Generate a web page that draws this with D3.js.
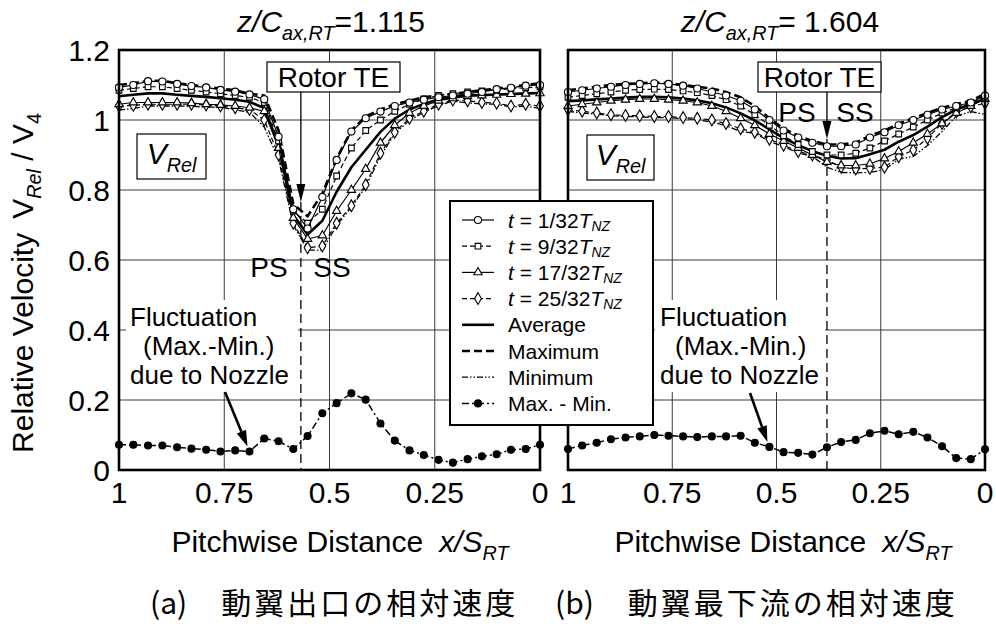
<!DOCTYPE html>
<html>
<head>
<meta charset="utf-8">
<script src="https://cdn.jsdelivr.net/npm/d3@7"></script>
<style>
  body { margin: 0; background: #fff; }
  svg { display: block; }
  text { font-family: "Liberation Sans", Arial, Helvetica, sans-serif; fill: #000; }
  .jp { font-family: "Noto Sans CJK JP", "Noto Sans CJK SC", sans-serif; }
</style>
</head>
<body>
<svg id="chart" width="996" height="628"></svg>
<script>
// Pitchwise positions x/S_RT of the measurement traverse
const pitch = [1.000,0.966,0.931,0.897,0.862,0.828,0.793,0.759,0.724,0.690,0.655,0.621,0.586,0.552,0.517,0.483,0.448,0.414,0.379,0.345,0.310,0.276,0.241,0.207,0.172,0.138,0.103,0.069,0.034,0.000];

// (a) rotor exit, z/Cax,RT = 1.115
const aT1  = [1.093,1.100,1.111,1.110,1.103,1.097,1.093,1.086,1.081,1.073,1.059,0.952,0.745,0.690,0.780,0.886,0.967,1.005,1.024,1.040,1.050,1.058,1.065,1.070,1.075,1.080,1.088,1.092,1.098,1.100];
const aT9  = [1.085,1.090,1.095,1.095,1.090,1.085,1.080,1.075,1.070,1.065,1.050,0.940,0.740,0.705,0.745,0.840,0.920,0.970,1.000,1.025,1.045,1.060,1.070,1.075,1.080,1.083,1.085,1.090,1.092,1.095];
const aT17 = [1.045,1.050,1.050,1.050,1.050,1.048,1.045,1.043,1.040,1.035,1.025,0.920,0.720,0.660,0.670,0.740,0.800,0.860,0.935,0.985,1.020,1.040,1.055,1.062,1.068,1.070,1.072,1.074,1.075,1.076];
const aT25 = [1.040,1.042,1.045,1.045,1.045,1.045,1.043,1.040,1.035,1.030,1.000,0.900,0.705,0.635,0.640,0.705,0.755,0.815,0.905,0.965,1.005,1.025,1.045,1.057,1.055,1.050,1.048,1.040,1.045,1.040];
const aAvg = [1.068,1.072,1.076,1.076,1.072,1.069,1.066,1.062,1.058,1.052,1.034,0.928,0.728,0.673,0.712,0.795,0.865,0.915,0.966,1.004,1.030,1.046,1.059,1.066,1.070,1.071,1.073,1.074,1.076,1.077];
const aMax = [1.100,1.105,1.112,1.112,1.105,1.100,1.095,1.090,1.085,1.075,1.070,0.970,0.760,0.725,0.790,0.890,0.970,1.010,1.030,1.045,1.055,1.065,1.070,1.075,1.080,1.085,1.090,1.095,1.100,1.105];
const aMin = [1.028,1.033,1.040,1.040,1.040,1.039,1.037,1.037,1.029,1.022,0.980,0.888,0.700,0.628,0.628,0.699,0.751,0.809,0.897,0.961,0.999,1.022,1.041,1.054,1.049,1.046,1.045,1.037,1.040,1.033];
const aFluct = [0.072,0.072,0.070,0.070,0.065,0.061,0.058,0.053,0.056,0.053,0.090,0.082,0.060,0.097,0.162,0.191,0.219,0.201,0.133,0.084,0.056,0.043,0.029,0.021,0.031,0.039,0.045,0.058,0.060,0.072];

// (b) far downstream, z/Cax,RT = 1.604
const bT1  = [1.080,1.085,1.090,1.095,1.100,1.103,1.105,1.103,1.098,1.090,1.080,1.070,1.055,1.030,1.000,0.970,0.950,0.935,0.925,0.925,0.930,0.950,0.965,0.985,1.000,1.015,1.030,1.040,1.050,1.070];
const bT9  = [1.065,1.070,1.075,1.080,1.085,1.087,1.088,1.087,1.083,1.078,1.070,1.058,1.040,1.015,0.985,0.955,0.930,0.910,0.900,0.900,0.905,0.920,0.940,0.960,0.980,1.000,1.020,1.035,1.050,1.065];
const bT17 = [1.040,1.045,1.050,1.055,1.058,1.060,1.060,1.058,1.055,1.050,1.040,1.025,1.005,0.985,0.960,0.940,0.920,0.900,0.880,0.870,0.870,0.875,0.890,0.910,0.935,0.960,0.990,1.020,1.040,1.060];
const bT25 = [1.030,1.025,1.020,1.015,1.013,1.012,1.010,1.010,1.007,1.005,1.000,0.990,0.975,0.965,0.945,0.928,0.910,0.900,0.886,0.865,0.860,0.862,0.865,0.895,0.914,0.948,0.990,1.023,1.038,1.048];
const bAvg = [1.054,1.056,1.059,1.061,1.064,1.066,1.066,1.065,1.061,1.056,1.048,1.036,1.019,0.999,0.973,0.948,0.928,0.911,0.898,0.890,0.891,0.902,0.915,0.938,0.957,0.981,1.008,1.030,1.045,1.061];
const bMax = [1.085,1.090,1.095,1.100,1.103,1.105,1.107,1.105,1.100,1.095,1.090,1.080,1.065,1.040,1.005,0.975,0.955,0.940,0.930,0.930,0.935,0.955,0.970,0.990,1.005,1.020,1.035,1.045,1.055,1.075];
const bMin = [1.025,1.020,1.017,1.012,1.010,1.009,1.007,1.007,1.004,1.001,0.994,0.984,0.967,0.962,0.939,0.924,0.906,0.896,0.865,0.850,0.849,0.850,0.858,0.888,0.896,0.927,0.967,1.011,1.024,1.016];
const bFluct = [0.060,0.070,0.078,0.088,0.093,0.096,0.100,0.098,0.096,0.094,0.096,0.096,0.098,0.078,0.066,0.051,0.049,0.044,0.065,0.080,0.086,0.105,0.112,0.102,0.109,0.093,0.068,0.034,0.031,0.059];

// Axis ticks and labels
const xTicks = [1, 0.75, 0.5, 0.25, 0];
const xTickLabels = ["1", "0.75", "0.5", "0.25", "0"];
const yTicks = [0, 0.2, 0.4, 0.6, 0.8, 1, 1.2];
const yTickLabels = ["0", "0.2", "0.4", "0.6", "0.8", "1", "1.2"];
const legendTimes = ["1/32", "9/32", "17/32", "25/32"];
const legendNames = ["Average", "Maximum", "Minimum", "Max. - Min."];
const rotorTE = [0.568, 0.379];        // rotor trailing-edge position in each panel
const rotorArrowTip = [0.766, 0.946];   // arrow tip level (V_Rel/V_4)
const titleValues = ["=1.115", "= 1.604"];
const captions = [["(a)", "動翼出口の相対速度"], ["(b)", "動翼最下流の相対速度"]];

const svg = d3.select("#chart");
const FONT = 30;

const y = d3.scaleLinear().domain([0, 1.2]).range([470, 50]);

const series = [
  { key: "min",   width: 1.3, dash: "6,2,1.5,2,1.5,2" },
  { key: "max",   width: 2.6, dash: "8,4" },
  { key: "avg",   width: 2.6, dash: null },
  { key: "t25",   width: 1.2, dash: "5,3", marker: "diamond" },
  { key: "t17",   width: 1.2, dash: null,  marker: "triangle" },
  { key: "t9",    width: 1.2, dash: "5,3", marker: "square" },
  { key: "t1",    width: 1.2, dash: null,  marker: "circle" },
  { key: "fluct", width: 1.5, dash: "7,3,2,3", marker: "dot" }
];
const legendOrder = ["t1", "t9", "t17", "t25", "avg", "max", "min", "fluct"];

const symbols = {
  circle:   d3.symbol().type(d3.symbolCircle).size(40),
  square:   d3.symbol().type(d3.symbolSquare).size(32),
  triangle: d3.symbol().type(d3.symbolTriangle).size(30),
  diamond:  d3.symbol().type(d3.symbolDiamond).size(40),
  dot:      d3.symbol().type(d3.symbolCircle).size(38)
};

const panels = [
  { left: 119, right: 540,
    data: { t1: aT1, t9: aT9, t17: aT17, t25: aT25, avg: aAvg, max: aMax, min: aMin, fluct: aFluct },
    te: rotorTE[0], tip: rotorArrowTip[0],
    teBox: [267, 62, 133, 30], psss: [269, 332, 277],
    vBox: [137, 134, 69, 45],
    flBox: [126, 300, 172, 92], flLines: [[130, 326], [143, 355], [130, 384]],
    flArrowFrom: [225, 392], flPoint: 9,
    titleX: 331, axisTitleX: 340, capX: 150 },
  { left: 568, right: 985,
    data: { t1: bT1, t9: bT9, t17: bT17, t25: bT25, avg: bAvg, max: bMax, min: bMin, fluct: bFluct },
    te: rotorTE[1], tip: rotorArrowTip[1],
    teBox: [758, 62, 123, 30], psss: [797, 855, 122],
    vBox: [587, 135, 67, 45],
    flBox: [655, 300, 170, 92], flLines: [[660, 326], [675, 355], [660, 384]],
    flArrowFrom: [750, 393], flPoint: 14,
    titleX: 780, axisTitleX: 783, capX: 555 }
];

// Rich text helper: italic parts and subscripts as tspans
function richText(parent, x, yy, parts, size, anchor, transform, subShift) {
  const t = parent.append("text").attr("x", x).attr("y", yy)
    .attr("font-size", size).attr("text-anchor", anchor || "start");
  if (transform) t.attr("transform", transform);
  const drop = size * (subShift || 0.28);
  let shift = 0;
  parts.forEach(p => {
    const s = t.append("tspan").text(p.t);
    if (p.it) s.attr("font-style", "italic");
    const target = p.sub ? drop : 0;
    if (target !== shift) { s.attr("dy", target - shift); shift = target; }
    if (p.sub) s.attr("font-size", size * 0.66);
    if (p.dx) s.attr("dx", p.dx);
  });
  return t;
}

function arrow(g, x1, y1, x2, y2, lw, headLen, headHalf) {
  const ang = Math.atan2(y2 - y1, x2 - x1);
  const bx = x2 - headLen * Math.cos(ang), by = y2 - headLen * Math.sin(ang);
  g.append("line").attr("x1", x1).attr("y1", y1).attr("x2", bx).attr("y2", by)
    .attr("stroke", "#000").attr("stroke-width", lw);
  const px = -Math.sin(ang) * headHalf, py = Math.cos(ang) * headHalf;
  g.append("path")
    .attr("d", `M${x2},${y2}L${bx + px},${by + py}L${bx - px},${by - py}Z`)
    .attr("fill", "#000");
}

panels.forEach((P, pi) => {
  const g = svg.append("g");
  const x = d3.scaleLinear().domain([1, 0]).range([P.left, P.right]);

  // grid
  g.selectAll(".vg").data(xTicks.slice(1, -1)).join("line")
    .attr("x1", d => x(d)).attr("x2", d => x(d)).attr("y1", y(1.2)).attr("y2", y(0))
    .attr("stroke", "#3a3a3a").attr("stroke-width", 1);
  g.selectAll(".hg").data(yTicks.slice(1, -1)).join("line")
    .attr("x1", P.left).attr("x2", P.right).attr("y1", d => y(d)).attr("y2", d => y(d))
    .attr("stroke", "#3a3a3a").attr("stroke-width", 1);

  // rotor trailing edge line
  g.append("line").attr("x1", x(P.te)).attr("x2", x(P.te))
    .attr("y1", y(P.tip)).attr("y2", y(0))
    .attr("stroke", "#000").attr("stroke-width", 1.3).attr("stroke-dasharray", "9,5");

  // curves
  series.forEach(s => {
    const vals = P.data[s.key];
    const line = d3.line().x((d, i) => x(pitch[i])).y(d => y(d));
    g.append("path").datum(vals).attr("d", line)
      .attr("fill", "none").attr("stroke", "#000").attr("stroke-width", s.width)
      .attr("stroke-dasharray", s.dash).attr("stroke-linejoin", "round");
    if (s.marker) {
      g.selectAll(null).data(vals).join("path")
        .attr("transform", (d, i) => `translate(${x(pitch[i])},${y(d)})`)
        .attr("d", symbols[s.marker]())
        .attr("fill", s.marker === "dot" ? "#000" : "#fff")
        .attr("stroke", "#000").attr("stroke-width", 1.1);
    }
  });

  // frame
  g.append("rect").attr("x", P.left).attr("y", y(1.2))
    .attr("width", P.right - P.left).attr("height", y(0) - y(1.2))
    .attr("fill", "none").attr("stroke", "#000").attr("stroke-width", 2.6);

  // x tick labels
  g.selectAll(".xt").data(xTicks).join("text")
    .attr("x", d => x(d)).attr("y", 503).attr("text-anchor", "middle")
    .attr("font-size", FONT).text((d, i) => xTickLabels[i]);

  // Rotor TE box and arrow
  const [bx, by, bw, bh] = P.teBox;
  g.append("rect").attr("x", bx).attr("y", by).attr("width", bw).attr("height", bh)
    .attr("fill", "#fff").attr("stroke", "#000").attr("stroke-width", 1.2);
  g.append("text").attr("x", bx + bw / 2).attr("y", by + bh - 5).attr("text-anchor", "middle")
    .attr("font-size", 28).text("Rotor TE");
  arrow(g, x(P.te), by + bh, x(P.te), y(P.tip), 1.3, 18, 4.5);
  g.append("text").attr("x", P.psss[0]).attr("y", P.psss[2]).attr("text-anchor", "middle")
    .attr("font-size", 28).text("PS");
  g.append("text").attr("x", P.psss[1]).attr("y", P.psss[2]).attr("text-anchor", "middle")
    .attr("font-size", 28).text("SS");

  // V_Rel box
  const [vx, vy, vw, vh] = P.vBox;
  g.append("rect").attr("x", vx).attr("y", vy).attr("width", vw).attr("height", vh)
    .attr("fill", "#fff").attr("stroke", "#000").attr("stroke-width", 1.2);
  richText(g, vx + vw / 2, vy + 30, [{ t: "V", it: true }, { t: "Rel", it: true, sub: true }], 30, "middle");

  // fluctuation note
  const [fx, fy, fw, fh] = P.flBox;
  g.append("rect").attr("x", fx).attr("y", fy).attr("width", fw).attr("height", fh).attr("fill", "#fff");
  ["Fluctuation", "(Max.-Min.)", "due to Nozzle"].forEach((t, i) => {
    g.append("text").attr("x", P.flLines[i][0]).attr("y", P.flLines[i][1])
      .attr("font-size", 26).text(t);
  });
  const k = P.flPoint;
  arrow(g, P.flArrowFrom[0], P.flArrowFrom[1],
        x(pitch[k]) - 2, y(P.data.fluct[k]) - 5, 2.6, 16, 5);

  // title
  richText(g, P.titleX, 32, [
    { t: "z/C", it: true }, { t: "ax,RT", it: true, sub: true }, { t: titleValues[pi] }
  ], FONT, "middle");

  // x axis title
  richText(g, P.axisTitleX, 552, [
    { t: "Pitchwise Distance" }, { t: "x/S", it: true, dx: 16 }, { t: "RT", it: true, sub: true }
  ], FONT, "middle");

  // caption
  const cap = g.append("text").attr("class", "jp")
    .attr("x", P.capX).attr("y", 614).attr("font-size", 30);
  cap.append("tspan").text(captions[pi][0]);
  cap.append("tspan").attr("dx", 34).attr("letter-spacing", 3).text(captions[pi][1]);
});

// y tick labels
svg.selectAll(".yt").data(yTicks).join("text")
  .attr("x", 110).attr("y", d => y(d) + 10.5).attr("text-anchor", "end")
  .attr("font-size", FONT).text((d, i) => yTickLabels[i]);

// y axis title
richText(svg, -283, 33, [
  { t: "Relative Velocity" }, { t: "V", dx: 14 }, { t: "Rel", it: true, sub: true },
  { t: " / V" }, { t: "4", sub: true }
], FONT, "middle", "rotate(-90)");

// legend
const lg = svg.append("g");
lg.append("rect").attr("x", 450).attr("y", 201).attr("width", 203).attr("height", 224)
  .attr("fill", "#fff").attr("stroke", "#000").attr("stroke-width", 2);
legendOrder.forEach((key, i) => {
  const s = series.find(d => d.key === key);
  const ry = 220 + i * 26.2;
  lg.append("line").attr("x1", 462).attr("x2", 494).attr("y1", ry).attr("y2", ry)
    .attr("stroke", "#000").attr("stroke-width", s.width).attr("stroke-dasharray", s.dash);
  if (s.marker) {
    lg.append("path").attr("transform", `translate(478,${ry})`).attr("d", symbols[s.marker]())
      .attr("fill", s.marker === "dot" ? "#000" : "#fff").attr("stroke", "#000").attr("stroke-width", 1.1);
  }
  if (i < 4) {
    richText(lg, 508, ry + 7.5, [
      { t: "t", it: true }, { t: " = " + legendTimes[i] }, { t: "T", it: true }, { t: "NZ", it: true, sub: true }
    ], 21, "start", null, 0.16);
  } else {
    lg.append("text").attr("x", 508).attr("y", ry + 7.5).attr("font-size", 21).text(legendNames[i - 4]);
  }
});
</script>
</body>
</html>
